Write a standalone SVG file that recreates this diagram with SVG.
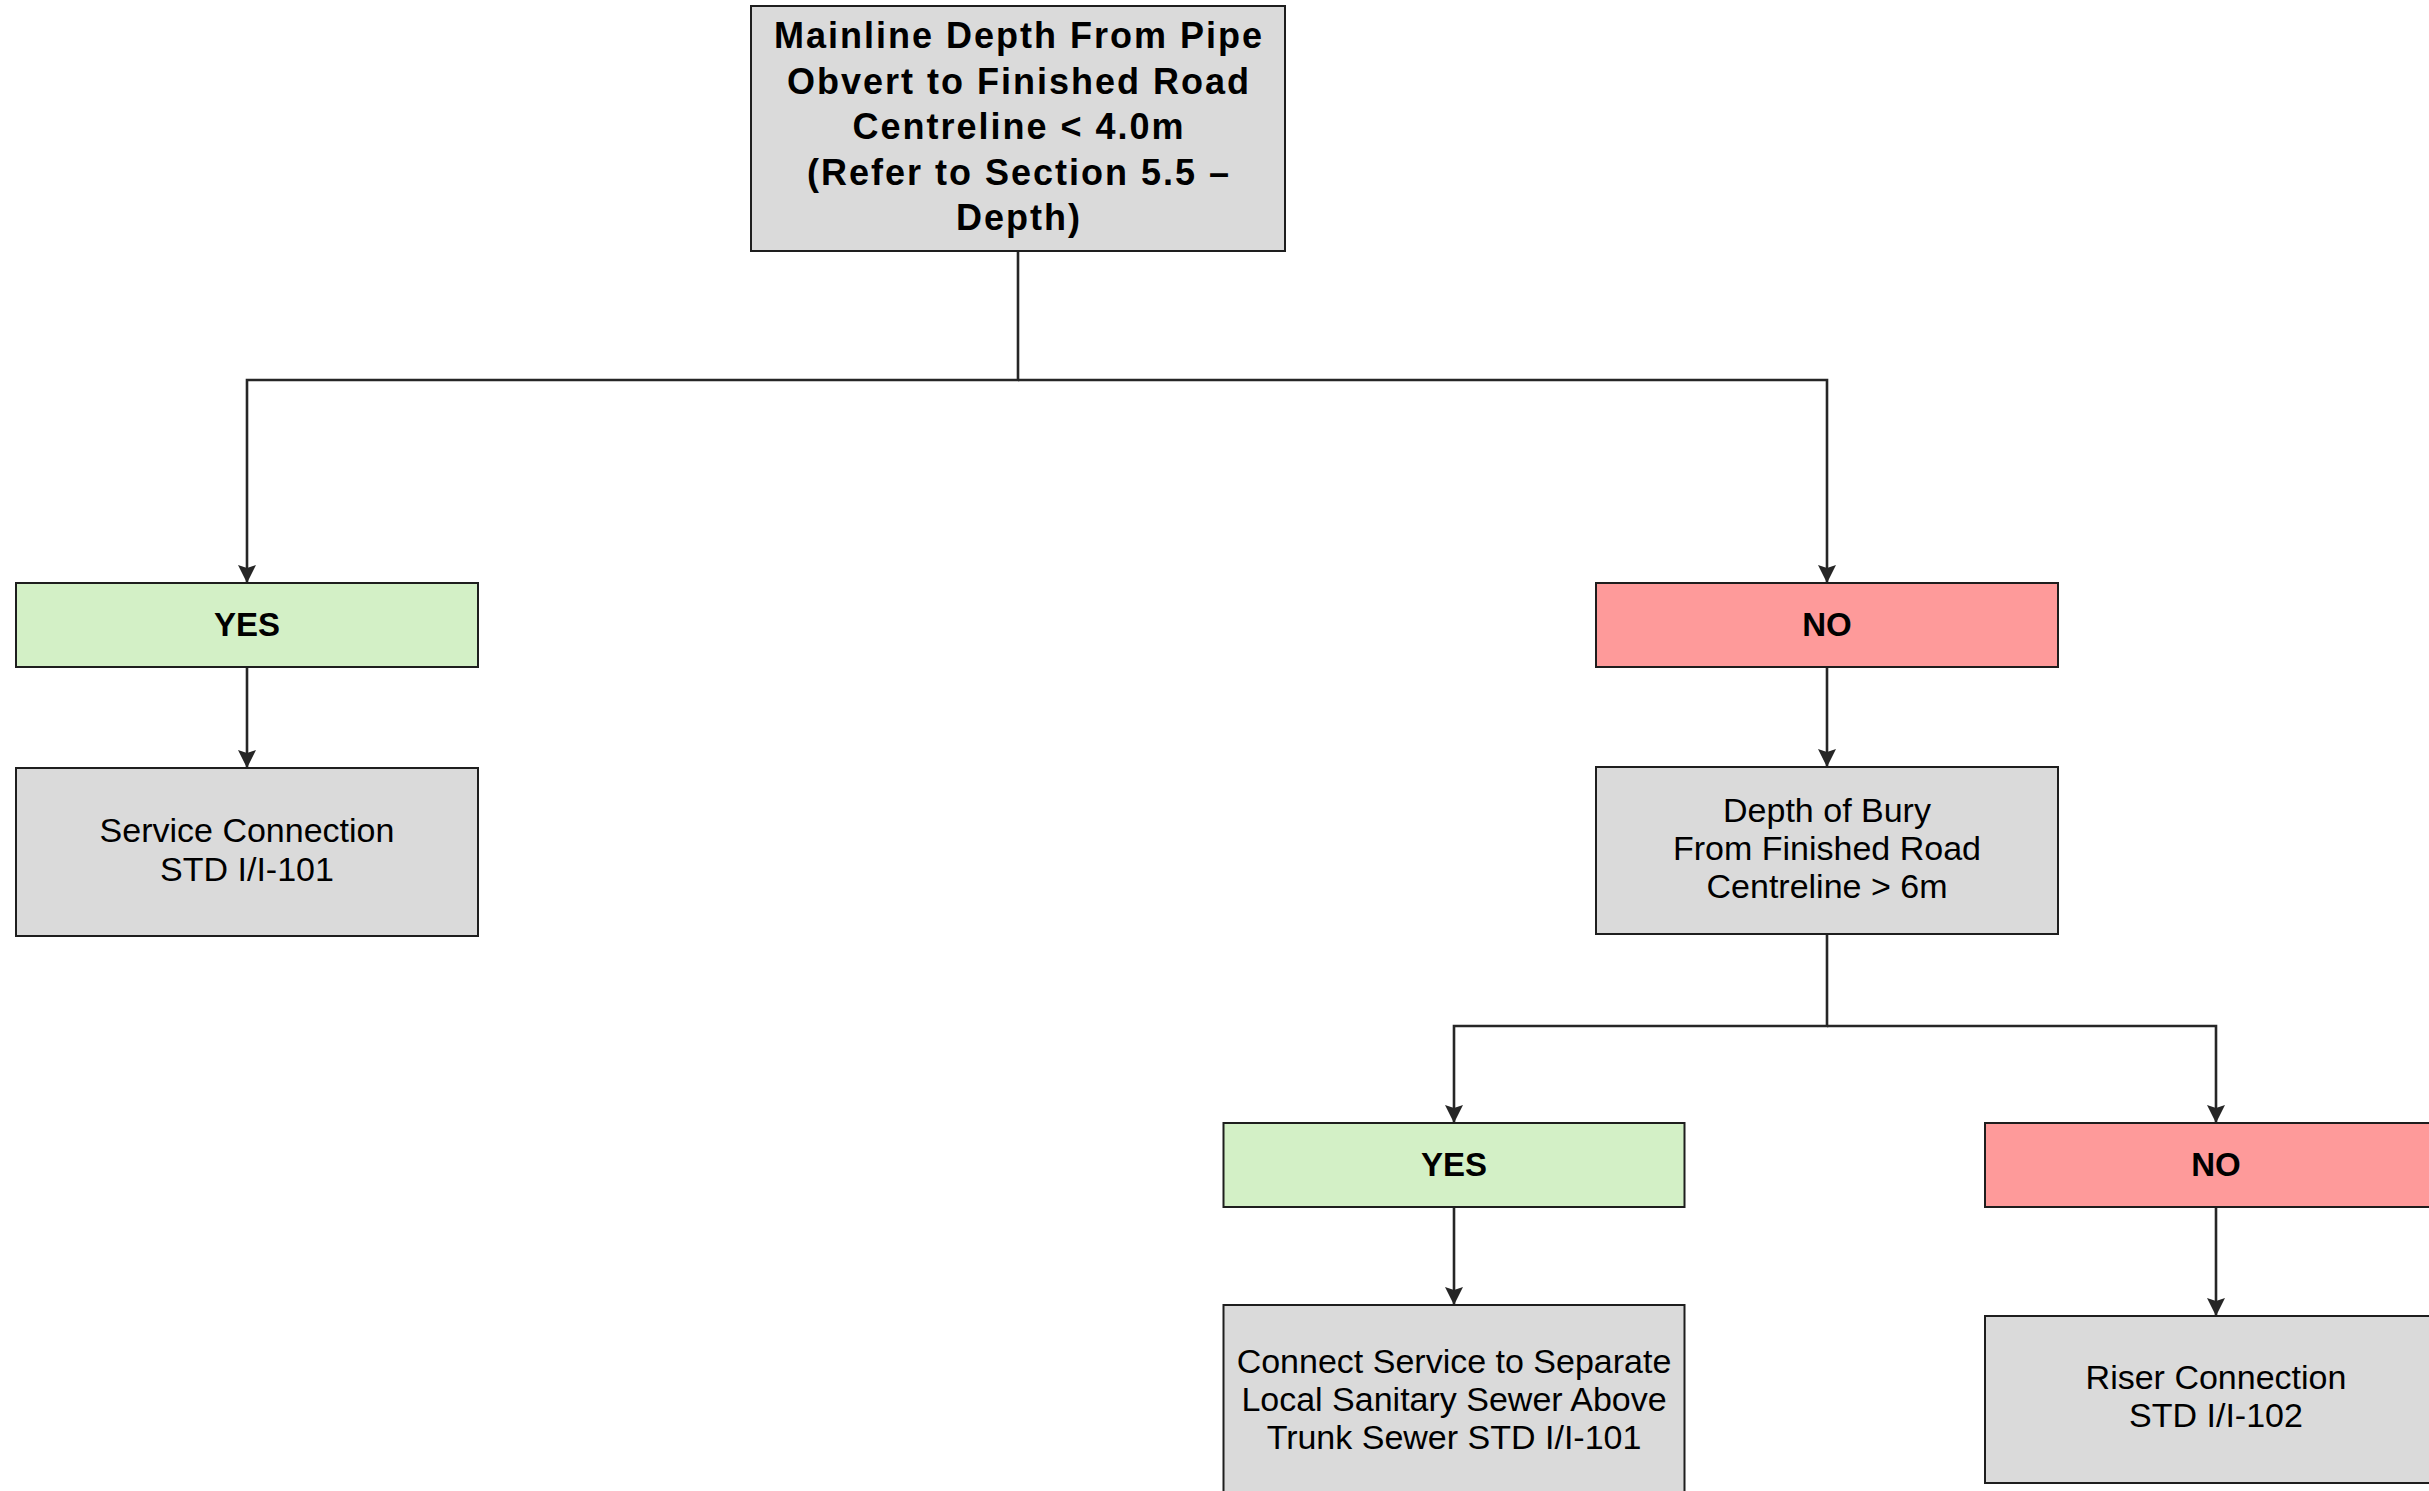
<svg xmlns="http://www.w3.org/2000/svg" width="2429" height="1491" viewBox="0 0 2429 1491">
<defs>
<marker id="arr" markerUnits="userSpaceOnUse" viewBox="0 0 18 18" refX="18" refY="9" markerWidth="18" markerHeight="18" orient="auto">
<path d="M0,0 L18,9 L0,18 L3,9 z" fill="#262626"/>
</marker>
<style>
.box{stroke:#1e1e1e;stroke-width:2}
.grey{fill:#dadada}
.green{fill:#d3f0c6}
.red{fill:#fe9a9a}
.t{font-family:"Liberation Sans",Arial,sans-serif;font-size:34px;fill:#000;text-anchor:middle}
.b{font-weight:bold;font-size:33px}
.title{font-weight:bold;font-size:36px;letter-spacing:2px}
.conn{fill:none;stroke:#262626;stroke-width:2.6;marker-end:url(#arr)}
</style>
</defs>
<rect width="2429" height="1491" fill="#ffffff"/>
<g id="connectors">
<path class="conn" d="M1018,251 V380 H247 V583"/>
<path class="conn" d="M1018,380 H1827 V583"/>
<path class="conn" d="M247,667 V768"/>
<path class="conn" d="M1827,667 V767"/>
<path class="conn" d="M1827,934 V1026 H1454 V1123"/>
<path class="conn" d="M1827,1026 H2216 V1123"/>
<path class="conn" d="M1454,1207 V1305"/>
<path class="conn" d="M2216,1207 V1316"/>
</g>
<g id="n-top">
<rect class="box grey" x="751" y="6" width="534" height="245"/>
<text class="t title" x="1019" y="48">Mainline Depth From Pipe</text>
<text class="t title" x="1019" y="94">Obvert to Finished Road</text>
<text class="t title" x="1019" y="139">Centreline &lt; 4.0m</text>
<text class="t title" x="1019" y="185">(Refer to Section 5.5 –</text>
<text class="t title" x="1019" y="230">Depth)</text>
</g>
<g id="n-yes1">
<rect class="box green" x="16" y="583" width="462" height="84"/>
<text class="t b" x="247" y="636">YES</text>
</g>
<g id="n-service">
<rect class="box grey" x="16" y="768" width="462" height="168"/>
<text class="t" x="247" y="842">Service Connection</text>
<text class="t" x="247" y="881">STD I/I-101</text>
</g>
<g id="n-no1">
<rect class="box red" x="1596" y="583" width="462" height="84"/>
<text class="t b" x="1827" y="636">NO</text>
</g>
<g id="n-depth">
<rect class="box grey" x="1596" y="767" width="462" height="167"/>
<text class="t" x="1827" y="822">Depth of Bury</text>
<text class="t" x="1827" y="860">From Finished Road</text>
<text class="t" x="1827" y="898">Centreline &gt; 6m</text>
</g>
<g id="n-yes2">
<rect class="box green" x="1223.5" y="1123" width="461" height="84"/>
<text class="t b" x="1454" y="1176">YES</text>
</g>
<g id="n-connect">
<rect class="box grey" x="1223.5" y="1305" width="461" height="195"/>
<text class="t" x="1454" y="1373">Connect Service to Separate</text>
<text class="t" x="1454" y="1411">Local Sanitary Sewer Above</text>
<text class="t" x="1454" y="1449">Trunk Sewer STD I/I-101</text>
</g>
<g id="n-no2">
<rect class="box red" x="1985" y="1123" width="462" height="84"/>
<text class="t b" x="2216" y="1176">NO</text>
</g>
<g id="n-riser">
<rect class="box grey" x="1985" y="1316" width="462" height="167"/>
<text class="t" x="2216" y="1389">Riser Connection</text>
<text class="t" x="2216" y="1427">STD I/I-102</text>
</g>
</svg>
